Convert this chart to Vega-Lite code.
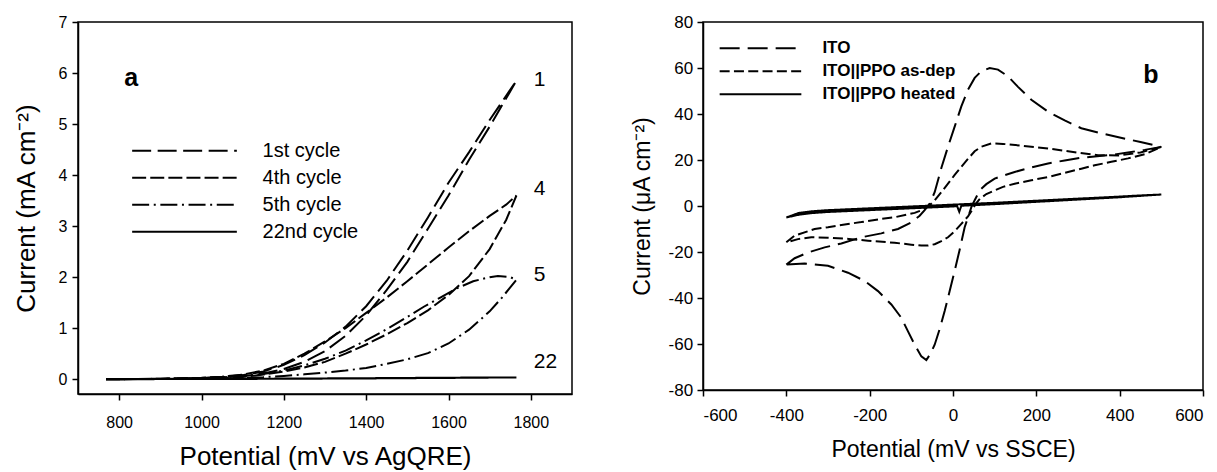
{
  "$schema": "https://vega.github.io/schema/vega-lite/v6.json",
  "background": "white",
  "padding": {"left": 12, "top": 12, "right": 0, "bottom": 0},
  "spacing": 57,
  "config": {
    "font": "Liberation Sans",
    "view": {"stroke": "black", "strokeWidth": 1.5},
    "axis": {"grid": false, "domainColor": "black", "domainWidth": 1.5, "tickColor": "black", "tickWidth": 1.5, "tickSize": 6, "labelColor": "black", "titleColor": "black", "titleFontWeight": "normal", "labelFont": "Liberation Sans", "titleFont": "Liberation Sans"},
    "legend": {"padding": 0, "rowPadding": 0, "labelFont": "Liberation Sans", "labelColor": "black"}
  },
  "resolve": {"scale": {"strokeDash": "independent"}, "legend": {"strokeDash": "independent"}},
  "datasets": {
    "cyc": [
      {"cycle":"1st cycle","i":0,"E":768,"I":0},{"cycle":"1st cycle","i":1,"E":850,"I":0.002},{"cycle":"1st cycle","i":2,"E":900,"I":0.005},{"cycle":"1st cycle","i":3,"E":950,"I":0.01},{"cycle":"1st cycle","i":4,"E":1000,"I":0.02},{"cycle":"1st cycle","i":5,"E":1050,"I":0.035},{"cycle":"1st cycle","i":6,"E":1100,"I":0.06},{"cycle":"1st cycle","i":7,"E":1150,"I":0.11},{"cycle":"1st cycle","i":8,"E":1200,"I":0.2},{"cycle":"1st cycle","i":9,"E":1250,"I":0.34},{"cycle":"1st cycle","i":10,"E":1300,"I":0.55},{"cycle":"1st cycle","i":11,"E":1350,"I":0.85},{"cycle":"1st cycle","i":12,"E":1400,"I":1.25},{"cycle":"1st cycle","i":13,"E":1450,"I":1.75},{"cycle":"1st cycle","i":14,"E":1500,"I":2.3},{"cycle":"1st cycle","i":15,"E":1550,"I":2.95},{"cycle":"1st cycle","i":16,"E":1600,"I":3.6},{"cycle":"1st cycle","i":17,"E":1650,"I":4.3},{"cycle":"1st cycle","i":18,"E":1700,"I":4.95},{"cycle":"1st cycle","i":19,"E":1765,"I":5.85},{"cycle":"1st cycle","i":20,"E":1700,"I":5.08},{"cycle":"1st cycle","i":21,"E":1650,"I":4.45},{"cycle":"1st cycle","i":22,"E":1600,"I":3.85},{"cycle":"1st cycle","i":23,"E":1550,"I":3.17},{"cycle":"1st cycle","i":24,"E":1500,"I":2.52},{"cycle":"1st cycle","i":25,"E":1450,"I":1.93},{"cycle":"1st cycle","i":26,"E":1400,"I":1.43},{"cycle":"1st cycle","i":27,"E":1350,"I":1.03},{"cycle":"1st cycle","i":28,"E":1300,"I":0.72},{"cycle":"1st cycle","i":29,"E":1250,"I":0.47},{"cycle":"1st cycle","i":30,"E":1200,"I":0.28},{"cycle":"1st cycle","i":31,"E":1150,"I":0.15},{"cycle":"1st cycle","i":32,"E":1100,"I":0.08},{"cycle":"1st cycle","i":33,"E":1050,"I":0.045},{"cycle":"1st cycle","i":34,"E":1000,"I":0.025},{"cycle":"1st cycle","i":35,"E":900,"I":0.008},{"cycle":"1st cycle","i":36,"E":800,"I":0.002},{"cycle":"1st cycle","i":37,"E":768,"I":0},
      {"cycle":"4th cycle","i":0,"E":768,"I":0},{"cycle":"4th cycle","i":1,"E":900,"I":0.004},{"cycle":"4th cycle","i":2,"E":1000,"I":0.012},{"cycle":"4th cycle","i":3,"E":1100,"I":0.045},{"cycle":"4th cycle","i":4,"E":1150,"I":0.09},{"cycle":"4th cycle","i":5,"E":1200,"I":0.15},{"cycle":"4th cycle","i":6,"E":1250,"I":0.23},{"cycle":"4th cycle","i":7,"E":1300,"I":0.34},{"cycle":"4th cycle","i":8,"E":1350,"I":0.5},{"cycle":"4th cycle","i":9,"E":1400,"I":0.68},{"cycle":"4th cycle","i":10,"E":1450,"I":0.88},{"cycle":"4th cycle","i":11,"E":1500,"I":1.1},{"cycle":"4th cycle","i":12,"E":1550,"I":1.35},{"cycle":"4th cycle","i":13,"E":1600,"I":1.65},{"cycle":"4th cycle","i":14,"E":1650,"I":2.02},{"cycle":"4th cycle","i":15,"E":1700,"I":2.55},{"cycle":"4th cycle","i":16,"E":1740,"I":3.12},{"cycle":"4th cycle","i":17,"E":1765,"I":3.6},{"cycle":"4th cycle","i":18,"E":1740,"I":3.42},{"cycle":"4th cycle","i":19,"E":1700,"I":3.2},{"cycle":"4th cycle","i":20,"E":1650,"I":2.9},{"cycle":"4th cycle","i":21,"E":1600,"I":2.58},{"cycle":"4th cycle","i":22,"E":1550,"I":2.25},{"cycle":"4th cycle","i":23,"E":1500,"I":1.92},{"cycle":"4th cycle","i":24,"E":1450,"I":1.6},{"cycle":"4th cycle","i":25,"E":1400,"I":1.3},{"cycle":"4th cycle","i":26,"E":1350,"I":1.0},{"cycle":"4th cycle","i":27,"E":1300,"I":0.74},{"cycle":"4th cycle","i":28,"E":1250,"I":0.5},{"cycle":"4th cycle","i":29,"E":1200,"I":0.3},{"cycle":"4th cycle","i":30,"E":1150,"I":0.17},{"cycle":"4th cycle","i":31,"E":1100,"I":0.09},{"cycle":"4th cycle","i":32,"E":1050,"I":0.05},{"cycle":"4th cycle","i":33,"E":1000,"I":0.03},{"cycle":"4th cycle","i":34,"E":900,"I":0.01},{"cycle":"4th cycle","i":35,"E":768,"I":0},
      {"cycle":"5th cycle","i":0,"E":768,"I":0},{"cycle":"5th cycle","i":1,"E":900,"I":0.003},{"cycle":"5th cycle","i":2,"E":1000,"I":0.01},{"cycle":"5th cycle","i":3,"E":1100,"I":0.025},{"cycle":"5th cycle","i":4,"E":1150,"I":0.04},{"cycle":"5th cycle","i":5,"E":1200,"I":0.065},{"cycle":"5th cycle","i":6,"E":1250,"I":0.095},{"cycle":"5th cycle","i":7,"E":1300,"I":0.13},{"cycle":"5th cycle","i":8,"E":1350,"I":0.17},{"cycle":"5th cycle","i":9,"E":1400,"I":0.22},{"cycle":"5th cycle","i":10,"E":1450,"I":0.3},{"cycle":"5th cycle","i":11,"E":1500,"I":0.39},{"cycle":"5th cycle","i":12,"E":1550,"I":0.51},{"cycle":"5th cycle","i":13,"E":1600,"I":0.7},{"cycle":"5th cycle","i":14,"E":1650,"I":0.97},{"cycle":"5th cycle","i":15,"E":1700,"I":1.33},{"cycle":"5th cycle","i":16,"E":1730,"I":1.6},{"cycle":"5th cycle","i":17,"E":1750,"I":1.8},{"cycle":"5th cycle","i":18,"E":1765,"I":1.95},{"cycle":"5th cycle","i":19,"E":1750,"I":2.0},{"cycle":"5th cycle","i":20,"E":1720,"I":2.02},{"cycle":"5th cycle","i":21,"E":1700,"I":2.0},{"cycle":"5th cycle","i":22,"E":1660,"I":1.92},{"cycle":"5th cycle","i":23,"E":1620,"I":1.78},{"cycle":"5th cycle","i":24,"E":1580,"I":1.6},{"cycle":"5th cycle","i":25,"E":1540,"I":1.42},{"cycle":"5th cycle","i":26,"E":1500,"I":1.22},{"cycle":"5th cycle","i":27,"E":1450,"I":0.98},{"cycle":"5th cycle","i":28,"E":1400,"I":0.76},{"cycle":"5th cycle","i":29,"E":1350,"I":0.56},{"cycle":"5th cycle","i":30,"E":1300,"I":0.4},{"cycle":"5th cycle","i":31,"E":1250,"I":0.27},{"cycle":"5th cycle","i":32,"E":1200,"I":0.17},{"cycle":"5th cycle","i":33,"E":1150,"I":0.1},{"cycle":"5th cycle","i":34,"E":1100,"I":0.06},{"cycle":"5th cycle","i":35,"E":1000,"I":0.02},{"cycle":"5th cycle","i":36,"E":900,"I":0.005},{"cycle":"5th cycle","i":37,"E":768,"I":0},
      {"cycle":"22nd cycle","i":0,"E":768,"I":0},{"cycle":"22nd cycle","i":1,"E":1000,"I":0.003},{"cycle":"22nd cycle","i":2,"E":1200,"I":0.008},{"cycle":"22nd cycle","i":3,"E":1400,"I":0.015},{"cycle":"22nd cycle","i":4,"E":1600,"I":0.025},{"cycle":"22nd cycle","i":5,"E":1765,"I":0.035},{"cycle":"22nd cycle","i":6,"E":1600,"I":0.03},{"cycle":"22nd cycle","i":7,"E":1400,"I":0.02},{"cycle":"22nd cycle","i":8,"E":1200,"I":0.012},{"cycle":"22nd cycle","i":9,"E":1000,"I":0.006},{"cycle":"22nd cycle","i":10,"E":768,"I":0.002}
    ],
    "cv": [
      {"s":"ITO","i":0,"E":-400,"I":-25.5},{"s":"ITO","i":1,"E":-380,"I":-22.7},{"s":"ITO","i":2,"E":-348,"I":-20.2},{"s":"ITO","i":3,"E":-308,"I":-18},{"s":"ITO","i":4,"E":-268,"I":-16.3},{"s":"ITO","i":5,"E":-220,"I":-13.6},{"s":"ITO","i":6,"E":-172,"I":-11.9},{"s":"ITO","i":7,"E":-132,"I":-10},{"s":"ITO","i":8,"E":-100,"I":-7.1},{"s":"ITO","i":9,"E":-80,"I":-4.2},{"s":"ITO","i":10,"E":-68,"I":-1.8},{"s":"ITO","i":11,"E":-56,"I":1},{"s":"ITO","i":12,"E":-44,"I":6},{"s":"ITO","i":13,"E":-28,"I":16.5},{"s":"ITO","i":14,"E":-12,"I":25.8},{"s":"ITO","i":15,"E":4,"I":34.5},{"s":"ITO","i":16,"E":20,"I":43.3},{"s":"ITO","i":17,"E":36,"I":50.6},{"s":"ITO","i":18,"E":52,"I":55.7},{"s":"ITO","i":19,"E":68,"I":58.6},{"s":"ITO","i":20,"E":88,"I":60},{"s":"ITO","i":21,"E":108,"I":59.3},{"s":"ITO","i":22,"E":132,"I":56.4},{"s":"ITO","i":23,"E":156,"I":51.8},{"s":"ITO","i":24,"E":188,"I":46.2},{"s":"ITO","i":25,"E":228,"I":41},{"s":"ITO","i":26,"E":268,"I":37.2},{"s":"ITO","i":27,"E":308,"I":33.8},{"s":"ITO","i":28,"E":356,"I":31.6},{"s":"ITO","i":29,"E":400,"I":29.8},{"s":"ITO","i":30,"E":450,"I":27.8},{"s":"ITO","i":31,"E":500,"I":25.7},{"s":"ITO","i":32,"E":460,"I":24.4},{"s":"ITO","i":33,"E":420,"I":23.3},{"s":"ITO","i":34,"E":380,"I":22.2},{"s":"ITO","i":35,"E":340,"I":21.5},{"s":"ITO","i":36,"E":308,"I":21},{"s":"ITO","i":37,"E":268,"I":19.8},{"s":"ITO","i":38,"E":228,"I":18.5},{"s":"ITO","i":39,"E":188,"I":16.8},{"s":"ITO","i":40,"E":148,"I":14.8},{"s":"ITO","i":41,"E":120,"I":13.2},{"s":"ITO","i":42,"E":100,"I":11.9},{"s":"ITO","i":43,"E":80,"I":9.5},{"s":"ITO","i":44,"E":68,"I":7.5},{"s":"ITO","i":45,"E":60,"I":5.3},{"s":"ITO","i":46,"E":52,"I":2.5},{"s":"ITO","i":47,"E":44,"I":-0.5},{"s":"ITO","i":48,"E":36,"I":-5},{"s":"ITO","i":49,"E":28,"I":-9.2},{"s":"ITO","i":50,"E":16,"I":-19},{"s":"ITO","i":51,"E":4,"I":-28.2},{"s":"ITO","i":52,"E":-8,"I":-37},{"s":"ITO","i":53,"E":-20,"I":-45.7},{"s":"ITO","i":54,"E":-32,"I":-53.5},{"s":"ITO","i":55,"E":-44,"I":-60.3},{"s":"ITO","i":56,"E":-55,"I":-64.5},{"s":"ITO","i":57,"E":-64,"I":-67},{"s":"ITO","i":58,"E":-76,"I":-65.4},{"s":"ITO","i":59,"E":-92,"I":-60.3},{"s":"ITO","i":60,"E":-108,"I":-54.5},{"s":"ITO","i":61,"E":-124,"I":-48.6},{"s":"ITO","i":62,"E":-148,"I":-42.8},{"s":"ITO","i":63,"E":-180,"I":-37},{"s":"ITO","i":64,"E":-212,"I":-32.6},{"s":"ITO","i":65,"E":-252,"I":-29},{"s":"ITO","i":66,"E":-300,"I":-26},{"s":"ITO","i":67,"E":-356,"I":-25},{"s":"ITO","i":68,"E":-400,"I":-25.5},
      {"s":"ITO||PPO as-dep","i":0,"E":-400,"I":-15.8},{"s":"ITO||PPO as-dep","i":1,"E":-380,"I":-12.9},{"s":"ITO||PPO as-dep","i":2,"E":-332,"I":-10},{"s":"ITO||PPO as-dep","i":3,"E":-300,"I":-9.2},{"s":"ITO||PPO as-dep","i":4,"E":-252,"I":-7.8},{"s":"ITO||PPO as-dep","i":5,"E":-220,"I":-7},{"s":"ITO||PPO as-dep","i":6,"E":-172,"I":-5.6},{"s":"ITO||PPO as-dep","i":7,"E":-140,"I":-4.9},{"s":"ITO||PPO as-dep","i":8,"E":-92,"I":-3},{"s":"ITO||PPO as-dep","i":9,"E":-70,"I":-1.5},{"s":"ITO||PPO as-dep","i":10,"E":-56,"I":0.3},{"s":"ITO||PPO as-dep","i":11,"E":-44,"I":2.4},{"s":"ITO||PPO as-dep","i":12,"E":-28,"I":6},{"s":"ITO||PPO as-dep","i":13,"E":-12,"I":9.7},{"s":"ITO||PPO as-dep","i":14,"E":4,"I":13.5},{"s":"ITO||PPO as-dep","i":15,"E":20,"I":17},{"s":"ITO||PPO as-dep","i":16,"E":36,"I":20.5},{"s":"ITO||PPO as-dep","i":17,"E":52,"I":23.8},{"s":"ITO||PPO as-dep","i":18,"E":68,"I":25.8},{"s":"ITO||PPO as-dep","i":19,"E":92,"I":27.2},{"s":"ITO||PPO as-dep","i":20,"E":120,"I":27},{"s":"ITO||PPO as-dep","i":21,"E":160,"I":26.3},{"s":"ITO||PPO as-dep","i":22,"E":228,"I":25},{"s":"ITO||PPO as-dep","i":23,"E":300,"I":23.2},{"s":"ITO||PPO as-dep","i":24,"E":348,"I":22.1},{"s":"ITO||PPO as-dep","i":25,"E":400,"I":22},{"s":"ITO||PPO as-dep","i":26,"E":450,"I":23.3},{"s":"ITO||PPO as-dep","i":27,"E":500,"I":25.7},{"s":"ITO||PPO as-dep","i":28,"E":460,"I":22.5},{"s":"ITO||PPO as-dep","i":29,"E":420,"I":20.7},{"s":"ITO||PPO as-dep","i":30,"E":380,"I":19.2},{"s":"ITO||PPO as-dep","i":31,"E":340,"I":17.7},{"s":"ITO||PPO as-dep","i":32,"E":308,"I":16.2},{"s":"ITO||PPO as-dep","i":33,"E":268,"I":14.4},{"s":"ITO||PPO as-dep","i":34,"E":228,"I":12.6},{"s":"ITO||PPO as-dep","i":35,"E":188,"I":11.2},{"s":"ITO||PPO as-dep","i":36,"E":148,"I":9.7},{"s":"ITO||PPO as-dep","i":37,"E":120,"I":8.3},{"s":"ITO||PPO as-dep","i":38,"E":100,"I":6.8},{"s":"ITO||PPO as-dep","i":39,"E":80,"I":5.2},{"s":"ITO||PPO as-dep","i":40,"E":65,"I":3.2},{"s":"ITO||PPO as-dep","i":41,"E":55,"I":1},{"s":"ITO||PPO as-dep","i":42,"E":45,"I":-2},{"s":"ITO||PPO as-dep","i":43,"E":36,"I":-4.5},{"s":"ITO||PPO as-dep","i":44,"E":20,"I":-7.8},{"s":"ITO||PPO as-dep","i":45,"E":4,"I":-11},{"s":"ITO||PPO as-dep","i":46,"E":-12,"I":-13.6},{"s":"ITO||PPO as-dep","i":47,"E":-28,"I":-15.3},{"s":"ITO||PPO as-dep","i":48,"E":-44,"I":-16.6},{"s":"ITO||PPO as-dep","i":49,"E":-60,"I":-17.2},{"s":"ITO||PPO as-dep","i":50,"E":-76,"I":-17.2},{"s":"ITO||PPO as-dep","i":51,"E":-100,"I":-16.8},{"s":"ITO||PPO as-dep","i":52,"E":-140,"I":-16},{"s":"ITO||PPO as-dep","i":53,"E":-204,"I":-15.1},{"s":"ITO||PPO as-dep","i":54,"E":-250,"I":-14.3},{"s":"ITO||PPO as-dep","i":55,"E":-300,"I":-13.8},{"s":"ITO||PPO as-dep","i":56,"E":-340,"I":-13.6},{"s":"ITO||PPO as-dep","i":57,"E":-372,"I":-14.4},{"s":"ITO||PPO as-dep","i":58,"E":-400,"I":-15.8},
      {"s":"ITO||PPO heated","i":0,"E":-400,"I":-5},{"s":"ITO||PPO heated","i":1,"E":-370,"I":-3.8},{"s":"ITO||PPO heated","i":2,"E":-340,"I":-3.1},{"s":"ITO||PPO heated","i":3,"E":-300,"I":-2.6},{"s":"ITO||PPO heated","i":4,"E":-200,"I":-1.8},{"s":"ITO||PPO heated","i":5,"E":-100,"I":-1},{"s":"ITO||PPO heated","i":6,"E":0,"I":-0.2},{"s":"ITO||PPO heated","i":7,"E":10,"I":-0.1},{"s":"ITO||PPO heated","i":8,"E":15,"I":-2.5},{"s":"ITO||PPO heated","i":9,"E":20,"I":0.1},{"s":"ITO||PPO heated","i":10,"E":100,"I":0.8},{"s":"ITO||PPO heated","i":11,"E":200,"I":1.8},{"s":"ITO||PPO heated","i":12,"E":300,"I":2.8},{"s":"ITO||PPO heated","i":13,"E":400,"I":3.8},{"s":"ITO||PPO heated","i":14,"E":500,"I":5},{"s":"ITO||PPO heated","i":15,"E":450,"I":4.6},{"s":"ITO||PPO heated","i":16,"E":400,"I":4.1},{"s":"ITO||PPO heated","i":17,"E":300,"I":3.2},{"s":"ITO||PPO heated","i":18,"E":200,"I":2.3},{"s":"ITO||PPO heated","i":19,"E":100,"I":1.4},{"s":"ITO||PPO heated","i":20,"E":0,"I":0.6},{"s":"ITO||PPO heated","i":21,"E":-100,"I":-0.2},{"s":"ITO||PPO heated","i":22,"E":-200,"I":-1},{"s":"ITO||PPO heated","i":23,"E":-300,"I":-1.8},{"s":"ITO||PPO heated","i":24,"E":-340,"I":-2.3},{"s":"ITO||PPO heated","i":25,"E":-370,"I":-3},{"s":"ITO||PPO heated","i":26,"E":-400,"I":-5}
    ],
    "labA": [{"t":"a","E":829,"I":5.745}],
    "numA": [{"t":"1","E":1807,"I":5.745},{"t":"4","E":1807,"I":3.61},{"t":"5","E":1807,"I":1.92},{"t":"22","E":1807,"I":0.215}],
    "labB": [{"t":"b","E":475,"I":53.5}]
  },
  "hconcat": [
    {
      "width": 494,
      "height": 372,
      "layer": [
        {
          "data": {"name": "cyc"},
          "mark": {"type": "line", "color": "black", "strokeWidth": 2},
          "encoding": {
            "x": {"field": "E", "type": "quantitative", "scale": {"domain": [700, 1900], "nice": false, "zero": false},
              "axis": {"values": [800, 1000, 1200, 1400, 1600, 1800], "labelExpr": "'' + datum.value", "labelFontSize": 16, "labelPadding": 14, "title": "Potential (mV vs AgQRE)", "titleFontSize": 26, "titlePadding": 13}},
            "y": {"field": "I", "type": "quantitative", "scale": {"domain": [-0.29, 7], "nice": false, "zero": false},
              "axis": {"values": [0, 1, 2, 3, 4, 5, 6, 7], "labelExpr": "'' + datum.value", "labelFontSize": 16, "labelPadding": 5, "title": "Current (mA cm⁻²)", "titleFontSize": 26, "titlePadding": 19}},
            "strokeDash": {"field": "cycle", "type": "nominal",
              "scale": {"domain": ["1st cycle", "4th cycle", "5th cycle", "22nd cycle"], "range": [[19, 6.5], [14, 4.1], [17, 4.6, 2, 4.6], [1, 0]]},
              "legend": {"orient": "none", "legendX": 53, "legendY": 115.6, "title": null, "symbolType": "stroke", "symbolSize": 10962, "symbolStrokeWidth": 2, "symbolStrokeColor": "black", "labelFontSize": 20, "labelOffset": 24.6, "clipHeight": 26.3, "rowPadding": 0, "padding": 0, "labelLimit": 400}},
            "order": {"field": "i", "type": "quantitative"}
          }
        },
        {
          "data": {"name": "labA"},
          "mark": {"type": "text", "fontSize": 25, "fontWeight": "bold", "align": "center", "baseline": "alphabetic", "color": "black"},
          "encoding": {"x": {"field": "E", "type": "quantitative"}, "y": {"field": "I", "type": "quantitative"}, "text": {"field": "t"}}
        },
        {
          "data": {"name": "numA"},
          "mark": {"type": "text", "fontSize": 21, "align": "left", "baseline": "alphabetic", "color": "black"},
          "encoding": {"x": {"field": "E", "type": "quantitative"}, "y": {"field": "I", "type": "quantitative"}, "text": {"field": "t"}}
        }
      ]
    },
    {
      "width": 500,
      "height": 368,
      "layer": [
        {
          "data": {"name": "cv"},
          "mark": {"type": "line", "color": "black", "strokeWidth": 2},
          "encoding": {
            "x": {"field": "E", "type": "quantitative", "scale": {"domain": [-600, 600], "nice": false, "zero": false},
              "axis": {"values": [-600, -400, -200, 0, 200, 400, 600], "labelExpr": "'' + datum.value", "labelFontSize": 17, "labelPadding": 11, "title": "Potential (mV vs SSCE)", "titleFontSize": 23, "titlePadding": 15}},
            "y": {"field": "I", "type": "quantitative", "scale": {"domain": [-80, 80], "nice": false, "zero": false},
              "axis": {"values": [-80, -60, -40, -20, 0, 20, 40, 60, 80], "labelExpr": "'' + datum.value", "labelFontSize": 17, "labelPadding": 4.4, "title": "Current (μA cm⁻²)", "titleFontSize": 23, "titlePadding": 14}},
            "strokeDash": {"field": "s", "type": "nominal",
              "scale": {"domain": ["ITO", "ITO||PPO as-dep", "ITO||PPO heated"], "range": [[20, 8], [10, 4.3], [1, 0]]},
              "legend": {"orient": "none", "legendX": 15.5, "legendY": 15, "title": null, "symbolType": "stroke", "symbolSize": 6675, "symbolStrokeWidth": 2, "symbolStrokeColor": "black", "labelFontSize": 17, "labelFontWeight": "bold", "labelOffset": 19.9, "clipHeight": 22.5, "rowPadding": 0, "padding": 0, "labelLimit": 400}},
            "order": {"field": "i", "type": "quantitative"}
          }
        },
        {
          "data": {"name": "labB"},
          "mark": {"type": "text", "fontSize": 25, "fontWeight": "bold", "align": "center", "baseline": "alphabetic", "color": "black"},
          "encoding": {"x": {"field": "E", "type": "quantitative"}, "y": {"field": "I", "type": "quantitative"}, "text": {"field": "t"}}
        }
      ]
    }
  ]
}
